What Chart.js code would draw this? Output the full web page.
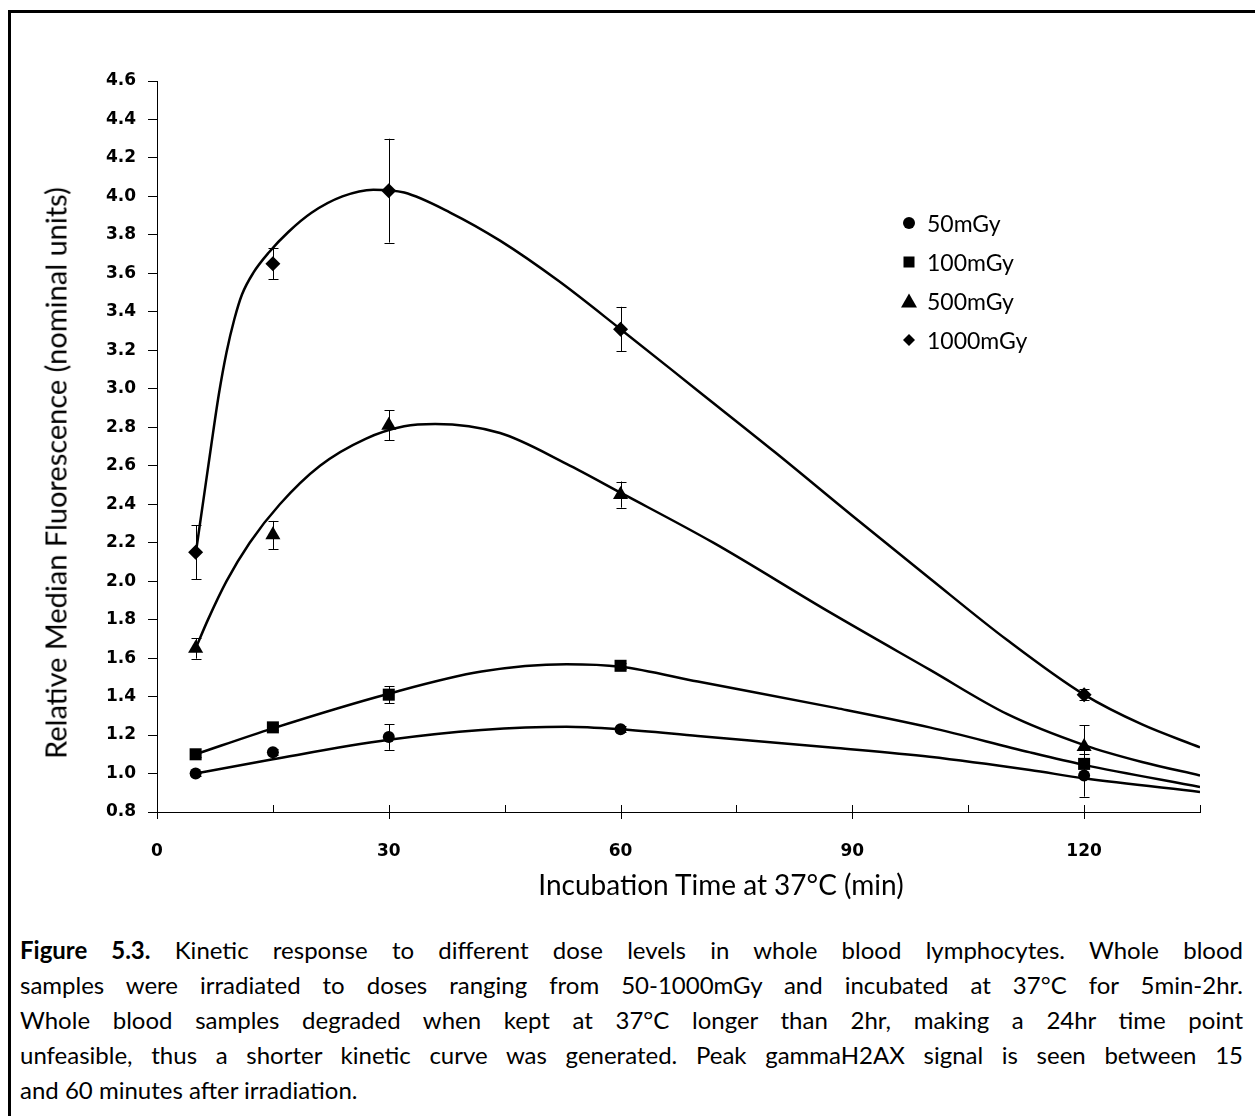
<!DOCTYPE html>
<html><head><meta charset="utf-8">
<script src="https://cdn.jsdelivr.net/npm/chart.js@4.4.0/dist/chart.umd.min.js"></script>
<style>
html,body{margin:0;padding:0;background:#fff;}
#wrap{position:relative;width:1255px;height:1116px;overflow:hidden;background:#fff;}
#frame{position:absolute;left:8px;top:10px;width:1300px;height:1200px;border-left:3px solid #000;border-top:3px solid #000;box-sizing:border-box;}
#c{position:absolute;left:0;top:0;}
.ttl{position:absolute;font-family:Lato,sans-serif;font-size:29px;color:#000;white-space:nowrap;line-height:1;}
.leg{position:absolute;font-family:Lato,sans-serif;font-size:23px;color:#000;white-space:nowrap;display:flex;align-items:center;height:26px;}
.leg svg{margin-right:2px;}
#caption{position:absolute;left:20px;width:1223px;top:932px;font-family:Lato,sans-serif;font-size:24px;line-height:35px;color:#000;}
#caption div{text-align:justify;text-align-last:justify;}
#caption div.last{text-align:left;text-align-last:left;}
</style></head>
<body>
<div id="wrap">
<div id="frame"></div>
<canvas id="c" width="1255" height="910"></canvas>
<div class="ttl" id="ytitle" style="left:55px;top:473px;transform:translate(-50%,-50%) rotate(-90deg);">Relative Median Fluorescence (nominal units)</div>
<div class="ttl" id="xtitle" style="left:721px;top:884px;font-size:28px;transform:translate(-50%,-50%);">Incubation Time at 37°C (min)</div>
<div id="legend"></div>
<div id="caption">
<div><b>Figure 5.3.</b> Kinetic response to different dose levels in whole blood lymphocytes. Whole blood</div>
<div>samples were irradiated to doses ranging from 50-1000mGy and incubated at 37°C for 5min-2hr.</div>
<div>Whole blood samples degraded when kept at 37°C longer than 2hr, making a 24hr time point</div>
<div>unfeasible, thus a shorter kinetic curve was generated. Peak gammaH2AX signal is seen between 15</div>
<div class="last">and 60 minutes after irradiation.</div>
</div>
</div>
<script>
// ---- data ----
const times = [5, 15, 30, 60, 120];
const seriesNames = ['50mGy', '100mGy', '500mGy', '1000mGy'];
const mean50   = [1.00, 1.11, 1.19, 1.23, 0.99];
const mean100  = [1.10, 1.24, 1.41, 1.56, 1.05];
const mean500  = [1.65, 2.24, 2.81, 2.45, 1.14];
const mean1000 = [2.15, 3.65, 4.03, 3.31, 1.41];
const err50   = [0.015, 0.015, 0.067, 0.015, 0.11];
const err100  = [0.015, 0.015, 0.045, 0.015, 0.02];
const err500  = [0.053, 0.073, 0.078, 0.068, 0.11];
const err1000 = [0.14, 0.08, 0.27, 0.116, 0.03];
// fitted curves
const fit50X   = [5, 15, 30, 42, 53, 60, 70, 88, 100, 113, 120, 135];
const fit50Y   = [1.00, 1.074, 1.175, 1.226, 1.243, 1.23, 1.195, 1.133, 1.087, 1.018, 0.975, 0.904];
const fit100X  = [5, 15, 30, 42, 53, 60, 70, 88, 100, 113, 120, 135];
const fit100Y  = [1.10, 1.235, 1.415, 1.53, 1.568, 1.555, 1.478, 1.34, 1.24, 1.11, 1.045, 0.93];
const fit500X  = [5, 6.6, 9, 12, 15.9, 21.1, 27, 32, 36, 44.4, 53, 60, 72, 87, 100, 110, 120, 127.5, 135];
const fit500Y  = [1.65, 1.8, 2.0, 2.2, 2.4, 2.6, 2.74, 2.805, 2.817, 2.77, 2.61, 2.46, 2.2, 1.84, 1.54, 1.31, 1.148, 1.06, 0.99];
const fit1000X = [5, 6, 7, 8, 9, 10, 11, 12.5, 14.5, 17, 20, 24, 28, 32, 38, 44.4, 52, 60, 70, 80, 90, 100, 110, 120, 127.5, 135];
const fit1000Y = [2.14, 2.42, 2.70, 2.97, 3.19, 3.36, 3.49, 3.605, 3.71, 3.815, 3.915, 4.0, 4.035, 4.02, 3.915, 3.77, 3.56, 3.31, 2.99, 2.67, 2.34, 2.015, 1.695, 1.41, 1.255, 1.136];
const yTickMin = 0.8, yTickMax = 4.6, yStep = 0.2;
const xTickMin = 0, xTickMax = 135, xStep = 15, xLabelEvery = 30;

const means = [mean50, mean100, mean500, mean1000];
const errs = [err50, err100, err500, err1000];
const fitsX = [fit50X, fit100X, fit500X, fit1000X];
const fitsY = [fit50Y, fit100Y, fit500Y, fit1000Y];
const styles = ['circle', 'rect', 'triangle', 'rectRot'];
const radii = [6, 8.5, 8.7, 7.5];

const datasets = [];
means.forEach((m, i) => {
  datasets.push({
    type: 'scatter', label: seriesNames[i], order: 0,
    data: times.map((t, j) => ({x: t, y: m[j]})),
    pointStyle: styles[i], pointRadius: radii[i],
    backgroundColor: '#000', borderColor: '#000', borderWidth: 0,
    errors: errs[i]
  });
});
fitsX.forEach((fx, i) => {
  datasets.push({
    type: 'line', label: seriesNames[i] + ' fit', order: 1,
    data: fx.map((x, j) => ({x: x, y: fitsY[i][j]})),
    borderColor: '#000', borderWidth: 2.5, pointRadius: 0,
    cubicInterpolationMode: 'monotone', fill: false
  });
});

const errorBars = {
  id: 'errorBars',
  beforeDatasetsDraw(chart) {
    const {ctx, scales: {x, y}} = chart;
    ctx.save();
    ctx.strokeStyle = '#000';
    ctx.lineWidth = 1;
    chart.data.datasets.forEach(ds => {
      if (!ds.errors) return;
      ds.data.forEach((p, j) => {
        const e = ds.errors[j];
        const px = Math.round(x.getPixelForValue(p.x)) + 0.5;
        const yt = y.getPixelForValue(p.y + e), yb = y.getPixelForValue(p.y - e);
        ctx.beginPath();
        ctx.moveTo(px, yt); ctx.lineTo(px, yb);
        ctx.moveTo(px - 5, Math.round(yt) + 0.5); ctx.lineTo(px + 5, Math.round(yt) + 0.5);
        ctx.moveTo(px - 5, Math.round(yb) + 0.5); ctx.lineTo(px + 5, Math.round(yb) + 0.5);
        ctx.stroke();
      });
    });
    ctx.restore();
  }
};
const xTicks = {
  id: 'xTicks',
  afterDraw(chart) {
    const {ctx, scales: {x}, chartArea} = chart;
    ctx.save();
    ctx.strokeStyle = '#000';
    ctx.lineWidth = 1;
    const yb = chartArea.bottom;
    for (let v = xTickMin; v <= xTickMax; v += xStep) {
      const px = Math.round(x.getPixelForValue(v)) + 0.5;
      ctx.beginPath();
      ctx.moveTo(px, yb - 7);
      ctx.lineTo(px, v % xLabelEvery === 0 ? yb + 7 : yb);
      ctx.stroke();
    }
    ctx.restore();
  }
};

new Chart(document.getElementById('c'), {
  data: {datasets},
  plugins: [errorBars, xTicks],
  options: {
    responsive: false, animation: false, devicePixelRatio: 1,
    layout: {padding: {left: 0, top: 81, right: 55, bottom: 0}},
    plugins: {legend: {display: false}, tooltip: {enabled: false}},
    scales: {
      x: {
        type: 'linear', min: xTickMin, max: xTickMax,
        afterFit: s => { s.height = 98; },
        grid: {display: false},
        border: {display: true, color: '#000', width: 1},
        ticks: {
          stepSize: xStep, autoSkip: false, maxRotation: 0, padding: 21, color: '#000',
          font: {family: "'DejaVu Sans'", weight: 'bold', size: 17},
          callback: v => (v % xLabelEvery === 0 ? String(v) : '')
        }
      },
      y: {
        type: 'linear', min: yTickMin, max: yTickMax,
        afterFit: s => { s.width = 157; },
        grid: {display: true, drawOnChartArea: false, drawTicks: true, tickLength: 9, color: '#000', lineWidth: 1},
        border: {display: true, color: '#000', width: 1},
        ticks: {
          stepSize: yStep, padding: 12, color: '#000',
          font: {family: "'DejaVu Sans'", weight: 'bold', size: 17},
          callback: v => Number(v).toFixed(1)
        }
      }
    }
  }
});

// legend (HTML)
const legY = [223, 262, 301, 340];
const shapes = [
  '<circle cx="9" cy="9" r="6" fill="#000"/>',
  '<rect x="3.5" y="3.5" width="11" height="11" fill="#000"/>',
  '<polygon points="9,1.5 17,15.5 1,15.5" fill="#000"/>',
  '<polygon points="9,3 15,9 9,15 3,9" fill="#000"/>'
];
const leg = document.getElementById('legend');
seriesNames.forEach((n, i) => {
  const d = document.createElement('div');
  d.className = 'leg';
  d.style.left = '900px';
  d.style.top = (legY[i] - 13) + 'px';
  d.innerHTML = '<svg width="18" height="18">' + shapes[i] + '</svg><span style="margin-left:7px">' + n + '</span>';
  leg.appendChild(d);
});
</script>
</body></html>
